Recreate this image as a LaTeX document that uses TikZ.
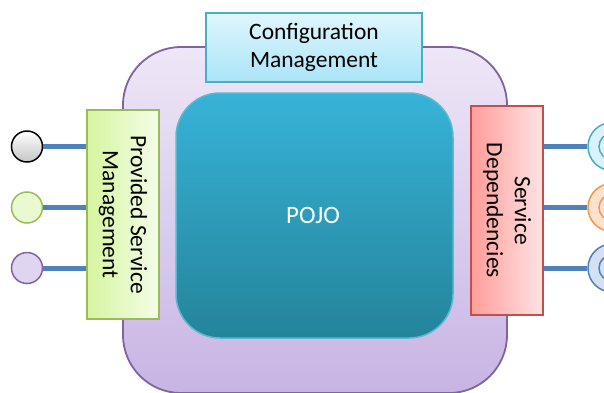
\documentclass[tikz,border=0pt]{standalone}
\usepackage{fontspec}
\setmainfont{Carlito}
\definecolor{outerb}{HTML}{8064A2}
\definecolor{outert}{HTML}{EEE7F7}
\definecolor{outerbt}{HTML}{C8B4E4}
\definecolor{pojot}{HTML}{37B3D8}
\definecolor{pojob}{HTML}{24849A}
\definecolor{pojobd}{HTML}{5BB8D0}
\definecolor{cfgt}{HTML}{E0F6FD}
\definecolor{cfgb}{HTML}{A9E5F7}
\definecolor{cfgbd}{HTML}{4BACC6}
\definecolor{psml}{HTML}{D6F5A0}
\definecolor{psmr}{HTML}{F4FDE8}
\definecolor{psmbd}{HTML}{9BBB59}
\definecolor{sdl}{HTML}{FF9D9A}
\definecolor{sdr}{HTML}{FFE3E3}
\definecolor{sdbd}{HTML}{C0504D}
\definecolor{conn}{HTML}{4F81BD}
\definecolor{orangebd}{HTML}{F79646}
\definecolor{orangef}{HTML}{FDE3CF}
\definecolor{cyanf}{HTML}{DAF3FA}
\definecolor{bluef}{HTML}{D5E1F2}
\definecolor{greenf}{HTML}{EAF9D0}
\definecolor{purplef}{HTML}{E0D5F0}
\tikzset{
  boxtext/.style={font=\fontsize{23.5}{28}\selectfont, align=center, inner sep=0pt},
  connline/.style={draw=conn, line width=5pt},
  lcirc/.style={circle, minimum size=31pt, inner sep=0pt, line width=1.5pt},
  ring/.style={circle, minimum size=48pt, inner sep=0pt, line width=1.5pt},
  ringin/.style={circle, minimum size=26pt, inner sep=0pt, line width=1.5pt},
}
\begin{document}
\begin{tikzpicture}[x=1pt,y=-1pt]
\useasboundingbox (0,0) rectangle (604,392);
% outer container
\node[draw=outerb, line width=1.8pt, rounded corners=58pt, top color=outert, bottom color=outerbt,
  minimum width=384pt, minimum height=346pt, inner sep=0pt] (outer) at (315,220) {};
% POJO
\node[draw=pojobd, line width=1.5pt, rounded corners=44pt, top color=pojot, bottom color=pojob,
  minimum width=277pt, minimum height=245pt, inner sep=0pt] (pojo) at (314.5,215.5) {};
\node[text=white, font=\fontsize{25}{30}\selectfont, inner sep=0pt] (pojotext) at (313,215) {POJO};
% configuration
\node[draw=cfgbd, line width=1.5pt, top color=cfgt, bottom color=cfgb,
  minimum width=216pt, minimum height=69pt, inner sep=0pt] (cfg) at (314,47.5) {};
\node[boxtext] (cfgtext) at (cfg.center) {Configuration\\Management};
% provided service management
\node[draw=psmbd, line width=1.5pt, left color=psml, right color=psmr,
  minimum width=72pt, minimum height=209pt, inner sep=0pt] (psm) at (123,214.5) {};
\node[boxtext, rotate=-90] (psmtext) at (psm.center) {Provided Service\\Management};
% service dependencies
\node[draw=sdbd, line width=1.5pt, left color=sdl, right color=sdr,
  minimum width=72pt, minimum height=209pt, inner sep=0pt] (sd) at (507,210.5) {};
\node[boxtext, rotate=-90] (sdtext) at (sd.center) {Service\\Dependencies};
% left circles
\node[lcirc, draw=black, top color=white, bottom color=gray!45] (c1) at (27,146.5) {};
\node[lcirc, draw=psmbd, fill=greenf] (c2) at (27,207.5) {};
\node[lcirc, draw=outerb, fill=purplef] (c3) at (27,268) {};
% right rings
\node[ring, draw=cfgbd, fill=cyanf] (r1) at (612,146.5) {};
\node[ringin, draw=cfgbd, fill=cyanf] (r1in) at (r1.center) {};
\node[ring, draw=orangebd, fill=orangef] (r2) at (612,207.5) {};
\node[ringin, draw=orangebd, fill=orangef] (r2in) at (r2.center) {};
\node[ring, draw=conn, fill=bluef] (r3) at (612,268) {};
\node[ringin, draw=conn, fill=bluef] (r3in) at (r3.center) {};
% connectors
\draw[connline] (c1.east) -- (psm.west |- c1.east);
\draw[connline] (c2.east) -- (psm.west |- c2.east);
\draw[connline] (c3.east) -- (psm.west |- c3.east);
\draw[connline] (sd.east |- r1.west) -- (r1.west);
\draw[connline] (sd.east |- r2.west) -- (r2.west);
\draw[connline] (sd.east |- r3.west) -- (r3.west);
\end{tikzpicture}
\end{document}
